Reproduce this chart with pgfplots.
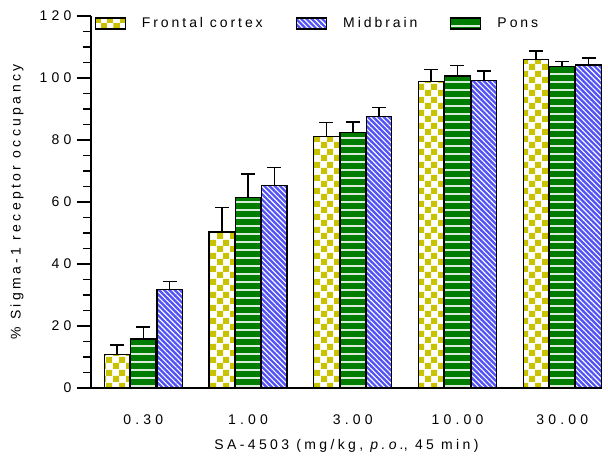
\documentclass[border=0pt]{standalone}
\usepackage{fontspec}
\setmainfont{Liberation Sans}[LetterSpace=21]
\usepackage{pgfplots}
\pgfplotsset{compat=1.18}
\usetikzlibrary{patterns.meta}
\definecolor{ycol}{RGB}{200,194,0}
\definecolor{bcol}{RGB}{82,82,245}
\definecolor{gcol}{RGB}{0,125,0}
\tikzdeclarepattern{
  name=checker,
  type=uncolored,
  bounding box={(0,0) and (12.6pt,12.6pt)},
  tile size={(12.6pt,12.6pt)},
  code={\fill (0,0) rectangle (6.3pt,6.3pt); \fill (6.3pt,6.3pt) rectangle (12.6pt,12.6pt);}
}
\pgfplotsset{
  mylegend/.style={legend image code/.code={\draw[##1] (0pt,-5.5pt) rectangle (30pt,5.5pt);}},
}
\newcommand{\tickfont}{\fontsize{14}{16}\selectfont\addfontfeature{LetterSpace=30}}
\newcommand{\labfont}{\fontsize{14}{16}\selectfont\addfontfeature{LetterSpace=24}}
\begin{document}
\begin{tikzpicture}
\begin{axis}[
  scale only axis, width=511pt, height=372pt,
  xmin=-0.5, xmax=4.38, ymin=0, ymax=120,
  axis x line*=bottom, axis y line*=left,
  axis line style={line width=1.3pt, -},
  xtick={0,1,2,3,4}, xticklabels={0.30,1.00,3.00,10.00,30.00},
  xtick style={draw=none},
  ytick={0,20,...,120}, minor y tick num=3,
  tick align=outside,
  major tick length=14pt, minor tick length=8pt,
  ytick style={line width=1.3pt, black},
  minor y tick style={line width=1.3pt, black},
  tick label style={font=\tickfont},
  /pgf/number format/assume math mode=true,
  xticklabel style={yshift=-9pt},
  yticklabel style={xshift=-2pt},
  xlabel={SA-4503 (mg/kg, \textit{p.o.}, 45 min)},
  ylabel={\% Sigma-1 receptor occupancy},
  label style={font=\labfont},
  xlabel style={at={(axis description cs:0.5,-0.156)}, anchor=center},
  ylabel style={at={(axis description cs:-0.145,0.5)}, anchor=center},
  ybar, bar width=25.5pt,
  legend columns=3,
  legend style={at={(axis description cs:0,1)}, anchor=west, xshift=3.4pt, yshift=-7.5pt,
    draw=none, fill=none, inner sep=0pt, font=\fontsize{14}{16}\selectfont,
    nodes={inner sep=0pt},
    column sep=0pt,
    /tikz/every odd column/.style={column sep=0pt},
    /tikz/every even column/.style={column sep=0pt}},
]
\pgfplotsset{
  myerr/.style={error bars/.cd, y dir=plus, y explicit, error mark=-,
    error bar style={line width=1.6pt, draw=black, solid},
    error mark options={line width=1.6pt, draw=black, mark size=7pt, rotate=90}},
}
\addplot[bar shift=-26.3pt, draw=black, line width=1.3pt,
  preaction={fill=white}, preaction={pattern=checker, pattern color=ycol}, mylegend, myerr]
  coordinates {(0,10.7) +- (0,3.2) (1,50.3) +- (0,7.9) (2,81.1) +- (0,4.5) (3,98.8) +- (0,3.9) (4,106.0) +- (0,2.7)};
\addlegendentry{\makebox[170pt][l]{\hspace{16pt}Frontal cortex}}
\addplot[bar shift=26.3pt, draw=black, line width=1.3pt,
  preaction={fill=bcol}, preaction={pattern={Lines[angle=-45, distance=3.7pt, line width=1.1pt]}, pattern color=white}, mylegend, myerr]
  coordinates {(0,31.7) +- (0,2.6) (1,65.4) +- (0,5.7) (2,87.5) +- (0,3.0) (3,99.1) +- (0,3.2) (4,104.2) +- (0,2.3)};
\addlegendentry{\makebox[123pt][l]{\hspace{16pt}Midbrain}}
\addplot[bar shift=0pt, draw=black, line width=1.3pt,
  preaction={fill=gcol}, preaction={pattern={Lines[angle=0, distance=8pt, line width=1.2pt]}, pattern color=white!85!gcol}, mylegend, myerr]
  coordinates {(0,15.8) +- (0,3.9) (1,61.4) +- (0,7.7) (2,82.4) +- (0,3.5) (3,100.6) +- (0,3.4) (4,103.6) +- (0,1.7)};
\addlegendentry{\hspace{16pt}Pons}
\end{axis}
\pgfresetboundingbox
\path[use as bounding box] (-91pt,-70pt) rectangle (517pt,388pt);
\end{tikzpicture}
\end{document}
